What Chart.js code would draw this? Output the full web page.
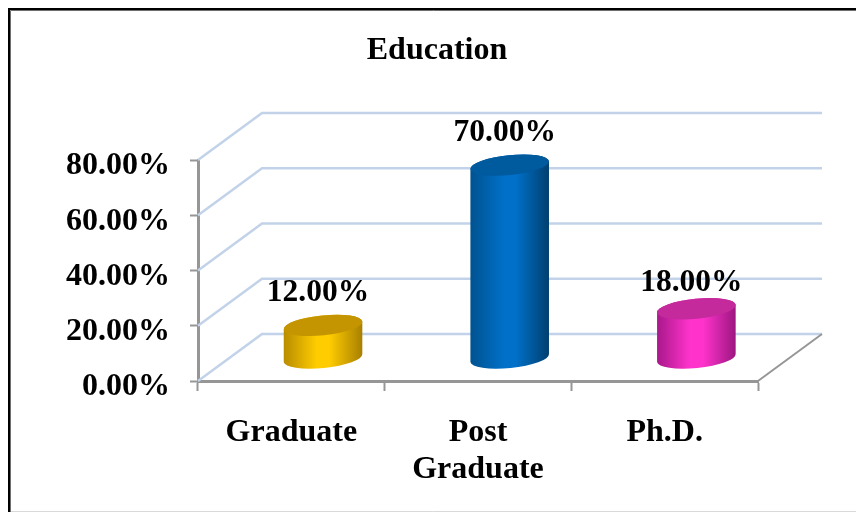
<!DOCTYPE html>
<html><head><meta charset="utf-8">
<style>html,body{margin:0;padding:0;background:#fff}canvas{display:block}</style>
<script src="https://cdn.jsdelivr.net/npm/chart.js@4"></script>
</head><body>
<div style="width:856px;height:512px"><canvas id="c"></canvas></div>
<script>
const categories = ['Graduate', ['Post', 'Graduate'], 'Ph.D.'];
const values = [12, 70, 18];
const titleText = 'Education';
const leftColors = ['#b88c00', '#00528f', '#a8188a'];
const rightColors = ['#a87f00', '#003f6e', '#9c1680'];
const midColors = ['#ffcc00', '#0070c8', '#ff33cc'];
const topColors = ['#c49500', '#005a9e', '#c42a9c'];
const labelRise = [32, 32, 26];
const FONT = '"Liberation Serif"';
const DX = 64, DY = 47, BARDX = 31.7, BARDY = 22.5, RY = 10, ROT = -0.1;
const GRID = '#c2d3e9', AXIS = '#969696';

const wall = {
  id: 'wall',
  afterLayout(chart) {
    chart.titleBlock.left = 18;
    chart.titleBlock.right = 856;
  },
  beforeDatasetsDraw(chart) {
    const {ctx, scales: {x, y}} = chart;
    ctx.save();
    ctx.lineWidth = 2.5;
    ctx.strokeStyle = GRID;
    y.ticks.forEach(t => {
      const py = y.getPixelForValue(t.value);
      ctx.beginPath();
      ctx.moveTo(x.left, py);
      ctx.lineTo(x.left + DX, py - DY);
      ctx.lineTo(x.right + DX, py - DY);
      ctx.stroke();
    });
    const y0 = y.getPixelForValue(0);
    ctx.strokeStyle = AXIS;
    ctx.lineWidth = 2;
    ctx.beginPath();
    ctx.moveTo(x.right, y0);
    ctx.lineTo(x.right + DX, y0 - DY);
    ctx.stroke();
    ctx.restore();
  },
  beforeDatasetDraw(chart, args) {
    const {ctx} = chart;
    args.meta.data.forEach((bar, i) => {
      const rx = bar.width / 2, cx = bar.x + BARDX;
      const top = bar.y - BARDY, base = bar.base - BARDY;
      const g = ctx.createLinearGradient(cx - rx, 0, cx + rx, 0);
      g.addColorStop(0, leftColors[i]);
      g.addColorStop(0.42, midColors[i]);
      g.addColorStop(0.58, midColors[i]);
      g.addColorStop(1, rightColors[i]);
      ctx.save();
      ctx.fillStyle = g;
      ctx.beginPath();
      ctx.ellipse(cx, base, rx, RY, ROT, Math.PI, 0, true);
      ctx.ellipse(cx, top, rx, RY, ROT, 0, Math.PI, true);
      ctx.closePath();
      ctx.fill();
      ctx.fillStyle = topColors[i];
      ctx.beginPath();
      ctx.ellipse(cx, top, rx, RY, ROT, 0, Math.PI * 2);
      ctx.fill();
      ctx.fillStyle = '#000';
      ctx.font = 'bold 31.5px ' + FONT;
      ctx.textAlign = 'center';
      ctx.textBaseline = 'middle';
      ctx.fillText(values[i].toFixed(2) + '%', cx - 5, top - labelRise[i]);
      ctx.restore();
    });
    return false;
  },
  afterDraw(chart) {
    const {ctx} = chart;
    ctx.save();
    ctx.strokeStyle = '#6e6e6e';
    ctx.lineWidth = 1;
    ctx.beginPath();
    ctx.moveTo(10.5, 512); ctx.lineTo(10.5, 10.5); ctx.lineTo(856, 10.5);
    ctx.stroke();
    ctx.strokeStyle = '#000';
    ctx.lineWidth = 2;
    ctx.beginPath();
    ctx.moveTo(9, 512); ctx.lineTo(9, 9); ctx.lineTo(856, 9);
    ctx.stroke();
    ctx.strokeStyle = '#d9d9d9';
    ctx.lineWidth = 1;
    ctx.beginPath();
    ctx.moveTo(11, 511.5); ctx.lineTo(856, 511.5);
    ctx.stroke();
    ctx.restore();
  }
};

new Chart(document.getElementById('c'), {
  type: 'bar',
  plugins: [wall],
  data: {
    labels: categories,
    datasets: [{data: values, backgroundColor: midColors, barPercentage: 0.423, categoryPercentage: 1}]
  },
  options: {
    responsive: true,
    maintainAspectRatio: false,
    animation: false,
    layout: {padding: {left: 0, right: 98, top: 0, bottom: 0}},
    plugins: {
      legend: {display: false},
      tooltip: {enabled: false},
      title: {
        display: true,
        text: titleText,
        color: '#000',
        font: {family: FONT, size: 32, weight: 'bold', lineHeight: 1.2},
        padding: {top: 32, bottom: 89.6}
      }
    },
    scales: {
      x: {
        afterFit(s) { s.height = 131; },
        border: {color: AXIS, width: 3},
        grid: {display: true, drawOnChartArea: false, drawTicks: true, tickLength: 10, tickColor: AXIS, tickWidth: 2, offset: true},
        ticks: {autoSkip: false, maxRotation: 0, color: '#000', padding: 23,
          font: {family: FONT, size: 32, weight: 'bold', lineHeight: 1.16}}
      },
      y: {
        min: 0, max: 80,
        afterFit(s) { s.width = 198; },
        border: {color: AXIS, width: 3},
        grid: {display: true, drawOnChartArea: false, drawTicks: true, tickLength: 8, tickColor: AXIS, tickWidth: 2},
        ticks: {stepSize: 20, color: '#000', padding: 20, labelOffset: 6,
          callback: v => v.toFixed(2) + '%',
          font: {family: FONT, size: 32, weight: 'bold'}}
      }
    }
  }
});
</script>
</body></html>
